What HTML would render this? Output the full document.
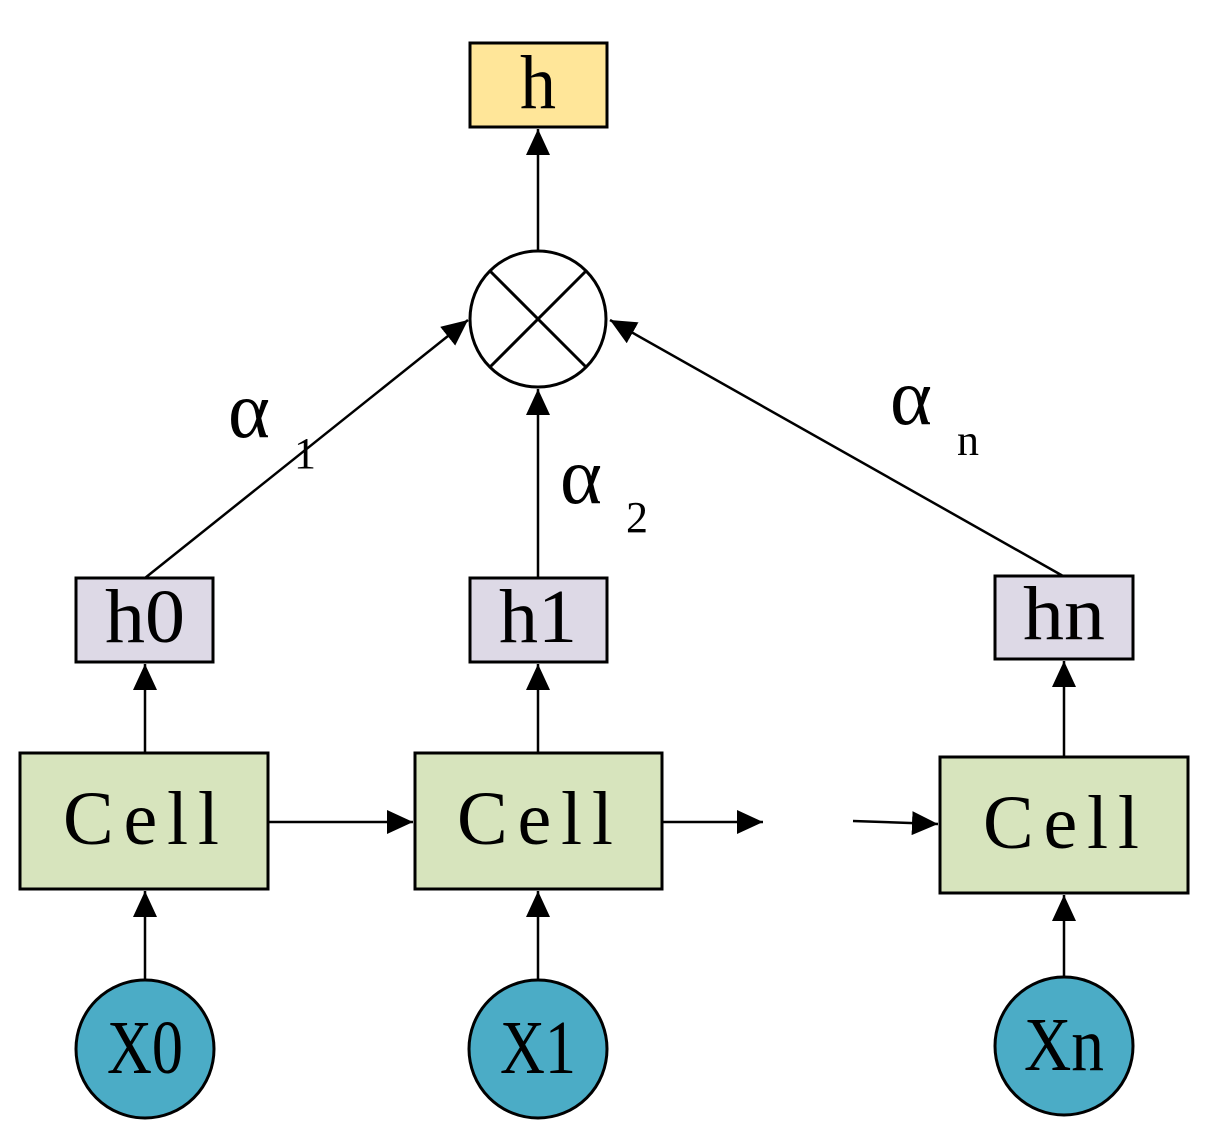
<!DOCTYPE html>
<html><head><meta charset="utf-8"><style>html,body{margin:0;padding:0;background:#fff}svg{display:block}</style></head>
<body>
<svg width="1214" height="1144" viewBox="0 0 1214 1144" xmlns="http://www.w3.org/2000/svg" font-family="Liberation Serif, serif">
<defs>
<marker id="a" markerWidth="26" markerHeight="24" refX="26" refY="12" orient="auto" markerUnits="userSpaceOnUse"><path d="M0,0 L26,12 L0,24 z" fill="#000"/></marker>
</defs>
<g stroke="#000" stroke-width="2.5" fill="none">
<line x1="538" y1="251" x2="538" y2="129" marker-end="url(#a)"/>
<line x1="538" y1="578" x2="538" y2="389" marker-end="url(#a)"/>
<line x1="145" y1="578" x2="468" y2="320" marker-end="url(#a)"/>
<line x1="1063" y1="576" x2="610" y2="320" marker-end="url(#a)"/>
<line x1="145" y1="753" x2="145" y2="664" marker-end="url(#a)"/>
<line x1="538" y1="753" x2="538" y2="664" marker-end="url(#a)"/>
<line x1="1064" y1="757" x2="1064" y2="661" marker-end="url(#a)"/>
<line x1="145" y1="980" x2="145" y2="891" marker-end="url(#a)"/>
<line x1="538" y1="980" x2="538" y2="891" marker-end="url(#a)"/>
<line x1="1064" y1="977" x2="1064" y2="895" marker-end="url(#a)"/>
<line x1="268" y1="822" x2="413" y2="822" marker-end="url(#a)"/>
<line x1="662" y1="822" x2="763" y2="822" marker-end="url(#a)"/>
<line x1="853" y1="821" x2="938" y2="824" marker-end="url(#a)"/>
</g>
<g stroke="#000" stroke-width="3">
<rect x="470" y="43" width="137" height="84" fill="#FFE699"/>
<circle cx="538" cy="319" r="68" fill="#fff"/>
<line x1="490" y1="271" x2="586" y2="367"/>
<line x1="586" y1="271" x2="490" y2="367"/>
<rect x="76" y="578" width="137" height="84" fill="#DDD9E6"/>
<rect x="470" y="578" width="137" height="84" fill="#DDD9E6"/>
<rect x="995" y="576" width="138" height="83" fill="#DDD9E6"/>
<rect x="20" y="753" width="248" height="136" fill="#D7E4BD"/>
<rect x="415" y="753" width="247" height="136" fill="#D7E4BD"/>
<rect x="940" y="757" width="248" height="136" fill="#D7E4BD"/>
<ellipse cx="145" cy="1049" rx="69" ry="69" fill="#4BACC6"/>
<ellipse cx="538" cy="1049" rx="69" ry="69" fill="#4BACC6"/>
<ellipse cx="1064" cy="1046" rx="69" ry="69" fill="#4BACC6"/>
</g>
<g fill="#000" font-size="76" text-anchor="middle">
<text x="538" y="108" textLength="36" lengthAdjust="spacingAndGlyphs">h</text>
<text x="145" y="642" textLength="80" lengthAdjust="spacingAndGlyphs">h0</text>
<text x="538" y="642" textLength="78" lengthAdjust="spacingAndGlyphs">h1</text>
<text x="1064" y="639" textLength="82" lengthAdjust="spacingAndGlyphs">hn</text>
<text x="141" y="844" textLength="156" lengthAdjust="spacing">Cell</text>
<text x="535" y="844" textLength="156" lengthAdjust="spacing">Cell</text>
<text x="1061" y="848" textLength="156" lengthAdjust="spacing">Cell</text>
<text x="145" y="1073" textLength="76" lengthAdjust="spacingAndGlyphs">X0</text>
<text x="538" y="1073" textLength="76" lengthAdjust="spacingAndGlyphs">X1</text>
<text x="1064" y="1070" textLength="80" lengthAdjust="spacingAndGlyphs">Xn</text>
</g>
<g fill="#000" font-size="80">
<text x="228" y="437">α</text>
<text x="294" y="468" font-size="44">1</text>
<text x="560" y="503">α</text>
<text x="626" y="532" font-size="44">2</text>
<text x="890" y="424">α</text>
<text x="957" y="455" font-size="44">n</text>
</g>
</svg>
</body></html>
